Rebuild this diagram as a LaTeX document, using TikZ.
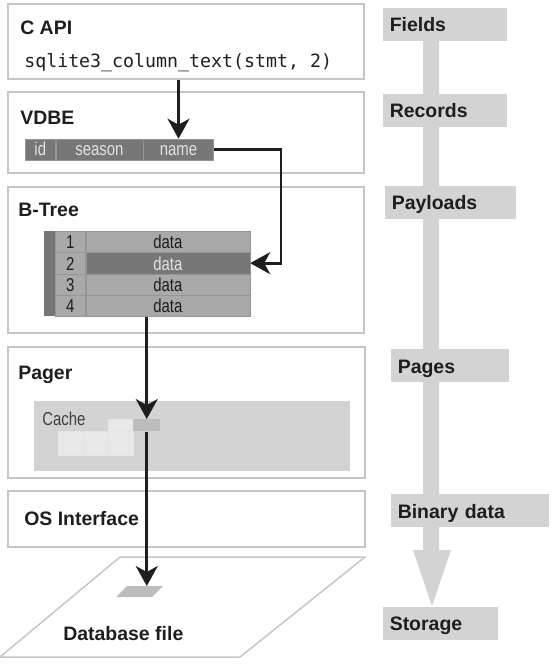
\documentclass[tikz,border=0pt]{standalone}
\usepackage{fontspec}
\setmainfont{Liberation Sans}
\newfontfamily\narrowfont[FakeStretch=0.8]{Liberation Sans}
\newfontfamily\codefont{DejaVu Sans Mono}
\usetikzlibrary{arrows.meta,positioning}

\definecolor{boxline}{HTML}{C6C6C6}
\definecolor{inkblack}{HTML}{1E1E1E}
\definecolor{darkcell}{HTML}{777777}
\definecolor{cellfill}{HTML}{A9A9A9}
\definecolor{cellline}{HTML}{959595}
\definecolor{celltext}{HTML}{E2E2E2}
\definecolor{layerfill}{HTML}{D3D3D3}
\definecolor{lightcell}{HTML}{E8E8E8}
\definecolor{slotfill}{HTML}{BCBCBC}

\newdimen\pxu \pxu=0.75pt

\tikzset{
  layer/.style 2 args={draw=boxline, line width=1.5\pxu, inner sep=0pt,
    minimum width=#1\pxu, minimum height=#2\pxu},
  title/.style={anchor=base west, inner sep=0pt, text=inkblack,
    font=\fontsize{14.6}{17}\selectfont\bfseries},
  code/.style={anchor=base west, inner sep=0pt, text=inkblack,
    font=\codefont\fontsize{13.7}{16}\selectfont},
  small/.style={font=\narrowfont\fontsize{14}{16}\selectfont},
  vcell/.style={small, fill=darkcell, draw=cellline, line width=0.6\pxu, text=celltext,
    minimum height=21\pxu, inner sep=0pt, text height=13\pxu, text depth=0pt},
  tcell/.style={small, fill=cellfill, draw=cellline, line width=0.6\pxu, text=inkblack,
    minimum height=21.25\pxu, inner sep=0pt, text height=14\pxu, text depth=0pt},
  hcell/.style={tcell, fill=darkcell, text=celltext},
  block/.style={fill=lightcell, draw=lightcell!80!layerfill, line width=0.6\pxu,
    minimum width=25\pxu, minimum height=12\pxu, inner sep=0pt, anchor=north west},
  level/.style={fill=layerfill, anchor=west, minimum height=33\pxu, inner xsep=6.5\pxu,
    inner ysep=0pt, text width=#1\pxu, align=left, text height=18\pxu, text depth=3\pxu,
    text=inkblack, font=\fontsize{14.6}{17}\selectfont\bfseries},
  flow/.style={line width=2pt, draw=inkblack,
    -{Stealth[length=15pt, width=16.5pt, inset=4.5pt]}}
}

\begin{document}
\begin{tikzpicture}[x=0.75pt,y=-0.75pt]
  \useasboundingbox (0,0) rectangle (556,666);

  % layers
  \node[layer={356}{75}]  (capi)  at (186,41.5)  {};
  \node[layer={356}{81}]  (vdbe)  at (186,132.5) {};
  \node[layer={356}{146}] (btree) at (186,260)   {};
  \node[layer={357}{131}] (pager) at (186.5,412.5) {};
  \node[layer={357}{56}]  (osif)  at (186.5,519) {};

  \node[title] (capi-t)  at (20,35)  {C API};
  \node[code]  (call)    at (24,68)  {sqlite3\_column\_text(stmt, 2)};
  \node[title] (vdbe-t)  at (20,125) {VDBE};
  \node[title] (btree-t) at (18,217) {B-Tree};
  \node[title] (pager-t) at (18,379) {Pager};
  \node[title] (osif-t)  at (24,525) {OS Interface};

  % record in the VDBE
  \node[vcell, minimum width=30\pxu, anchor=west] (id) at (25,149.5) {id};
  \node[vcell, minimum width=87\pxu, right=0pt of id] (season) {season};
  \node[vcell, minimum width=70\pxu, right=0pt of season] (name) {name};

  % B-Tree table
  \node[fill=darkcell, minimum width=11\pxu, minimum height=85\pxu, inner sep=0pt,
        anchor=north west] (spine) at (44,231) {};
  \foreach \i/\look in {1/tcell,2/hcell,3/tcell,4/tcell} {
    \node[tcell, minimum width=30\pxu, anchor=north west] (num\i) at (55,{231+21.25*(\i-1)}) {\i};
    \node[\look, minimum width=164\pxu, right=0pt of num\i] (data\i) {data};
  }

  % pager cache
  \node[fill=layerfill, minimum width=316\pxu, minimum height=70\pxu, inner sep=0pt,
        anchor=north west] (cache) at (34,401) {};
  \node[small, anchor=base west, inner sep=0pt, text=inkblack!85] (cache-t) at (42,425) {Cache};
  \foreach \cx/\cy in {108/419, 58/431, 83/431, 108/431, 58/443, 83/443, 108/443}
    \node[block] (blk-\cx-\cy) at (\cx,\cy) {};
  \node[fill=slotfill, minimum width=27\pxu, minimum height=12\pxu, inner sep=0pt,
        anchor=north west] (slot) at (133,419) {};

  % database file
  \draw[draw=boxline, line width=1.5\pxu] (120,557) -- (365,557) -- (240,657) -- (0,657) -- cycle;
  \fill[slotfill] (127,586) -- (163,586) -- (152,597) -- (116,597) -- cycle;
  \coordinate (dbpage) at (145,586);
  \node[title] (dbfile-t) at (63,640) {Database file};

  % data path
  \coordinate (turn) at (281,149.5);
  \draw[flow] (name |- capi.south) -- (name.north);
  \draw[flow] (name.east) -- (turn) |- (data2.east);
  \draw[flow] (slot |- data4.south) -- (slot.north);
  \draw[flow] (slot.south) -- (slot.south |- dbpage);

  % levels of data
  \fill[layerfill] (423,30) -- (439,30) -- (439,550) -- (451,550) -- (432,606)
    -- (413,550) -- (423,550) -- cycle;
  \node[level=111] (fields)   at (383,24.5)  {Fields};
  \node[level=111] (records)  at (383,110.5) {Records};
  \node[level=118] (payloads) at (385,202.5) {Payloads};
  \node[level=105] (pages)    at (391,365.5) {Pages};
  \node[level=145] (binary)   at (391,510.5) {Binary data};
  \node[level=102] (storage)  at (383,623)   {Storage};
\end{tikzpicture}
\end{document}
